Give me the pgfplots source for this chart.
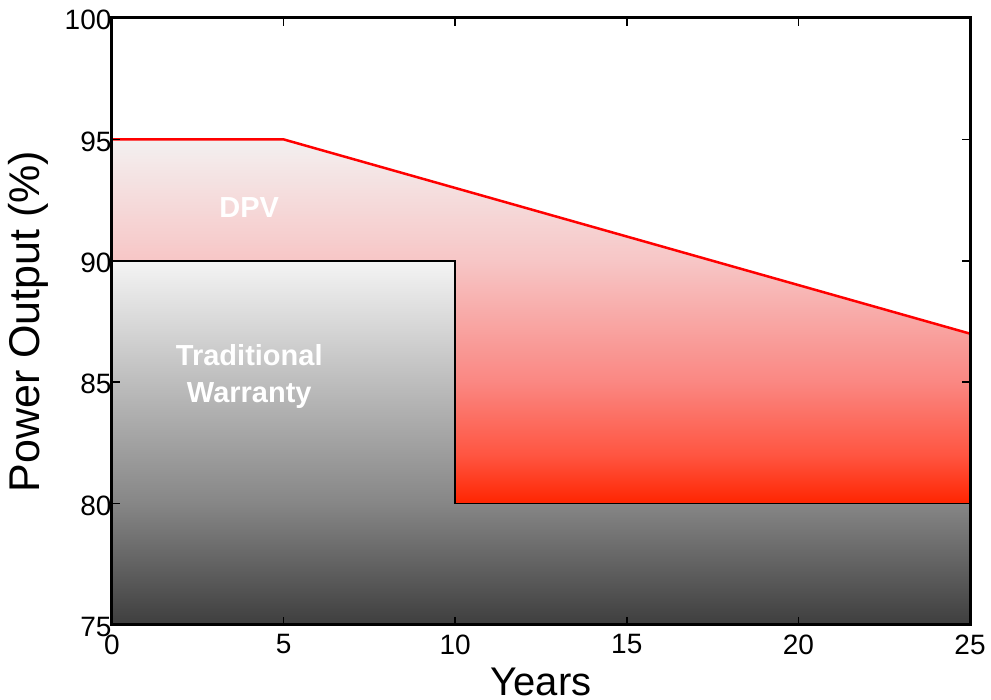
\documentclass[border=0pt]{standalone}
\usepackage{pgfplots}
\pgfplotsset{compat=1.18}
\usepackage{fontspec}
\setmainfont{Liberation Sans}
\definecolor{r95}{RGB}{243,240,240}
\definecolor{r90}{RGB}{247,198,198}
\definecolor{r85}{RGB}{250,135,130}
\definecolor{r82}{RGB}{255,85,65}
\definecolor{r80}{RGB}{255,36,0}
\definecolor{g90}{RGB}{244,244,244}
\definecolor{g80}{RGB}{134,134,134}
\definecolor{g75}{RGB}{62,62,62}
\pgfdeclareverticalshading{redgrad}{100bp}{color(0bp)=(r80); color(25bp)=(r80); color(31.67bp)=(r82); color(41.67bp)=(r85); color(58.33bp)=(r90); color(75bp)=(r95); color(100bp)=(r95)}
\pgfdeclareverticalshading{graygrad}{100bp}{color(0bp)=(g75); color(25bp)=(g75); color(41.67bp)=(g80); color(75bp)=(g90); color(100bp)=(g90)}
\begin{document}
\begin{tikzpicture}[x=1pt,y=1pt]
\path[use as bounding box] (-112,-75) rectangle (879,625);
\begin{axis}[
  at={(0,0)}, anchor=south west,
  scale only axis, width=858pt, height=607pt,
  xmin=0, xmax=25, ymin=75, ymax=100,
  xtick={0,5,10,15,20,25}, ytick={75,80,85,90,95,100},
  tick align=inside, major tick length=8pt,
  tick style={black, line width=1.5pt},
  axis line style={black, line width=3pt},
  /pgf/number format/assume math mode=true,
  ticklabel style={font=\fontsize{28}{32}\selectfont},
  xticklabel style={yshift=-6pt},
  yticklabel style={xshift=3pt, yshift=-2pt},
  xlabel={Years}, ylabel={Power Output (\%)},
  xlabel style={font=\fontsize{40}{46}\selectfont, at={(axis description cs:0.5,-0.0935)}, anchor=center},
  ylabel style={font=\fontsize{43}{48}\selectfont, at={(axis description cs:-0.098,0.5)}, anchor=center},
  axis on top,
  clip=true,
]
\addplot[draw=none, shade, shading=redgrad]
  coordinates {(0,95) (5,95) (25,87) (25,80) (10,80) (10,90) (0,90)} -- cycle;
\addplot[draw=black, line width=1.5pt, shade, shading=graygrad]
  coordinates {(0,75) (0,90) (10,90) (10,80) (25,80) (25,75)} -- cycle;
\addplot[red, line width=2.5pt] coordinates {(0,95) (5,95) (25,87)};
\node[text=white, font=\bfseries\fontsize{29}{34}\selectfont] at (axis cs:4,92.2) {DPV};
\node[text=white, font=\bfseries\fontsize{29}{37}\selectfont, align=center] at (axis cs:4,85.25) {Traditional\\Warranty};
\end{axis}
\end{tikzpicture}
\end{document}
